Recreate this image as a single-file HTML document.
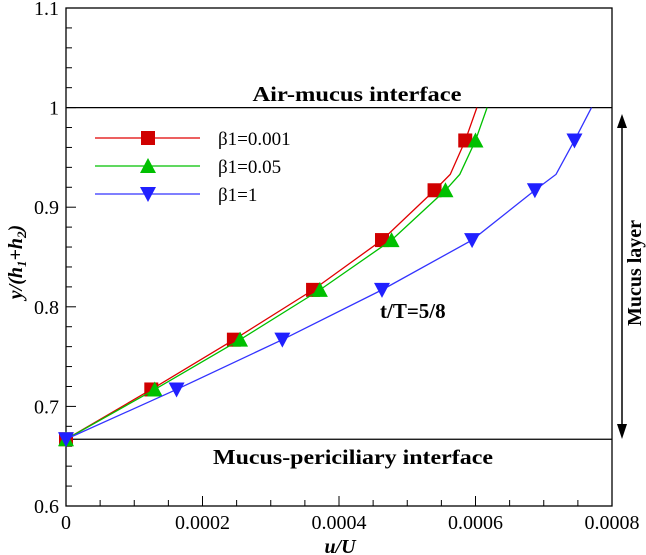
<!DOCTYPE html>
<html><head><meta charset="utf-8"><style>
body{margin:0;background:#fff}
svg{display:block;font-family:"Liberation Serif",serif}
</style></head><body>
<svg id="c" width="646" height="555">
<g id="axes"></g><g id="marks"></g>
<text x="357" y="101" text-anchor="middle" font-size="21" font-weight="bold" textLength="209" lengthAdjust="spacingAndGlyphs">Air-mucus interface</text>
<text x="353" y="464" text-anchor="middle" font-size="21" font-weight="bold" textLength="280" lengthAdjust="spacingAndGlyphs">Mucus-periciliary interface</text>
<text x="380" y="318" font-size="21" font-weight="bold">t/T=5/8</text>
<text x="340" y="553" text-anchor="middle" font-size="20" font-weight="bold" font-style="italic">u/U</text>
<text transform="translate(22,262) rotate(-90)" text-anchor="middle" font-size="20" font-weight="bold" font-style="italic">y/(h<tspan font-size="13" dy="4">1</tspan><tspan dy="-4">+h</tspan><tspan font-size="13" dy="4">2</tspan><tspan dy="-4">)</tspan></text>
<g>
<line x1="622" y1="125" x2="622" y2="428" stroke="#000" stroke-width="1.5"/>
<polygon points="617,128 627,128 622,114" fill="#000"/>
<polygon points="617,424 627,424 622,439" fill="#000"/>
</g>
<text transform="translate(641,273) rotate(-90)" text-anchor="middle" font-size="20" font-weight="bold">Mucus layer</text>
</svg>
<script>
const xTicks=[0,0.0002,0.0004,0.0006,0.0008];
const xTickLabels=["0","0.0002","0.0004","0.0006","0.0008"];
const yTicks=[0.6,0.7,0.8,0.9,1,1.1];
const yTickLabels=["0.6","0.7","0.8","0.9","1","1.1"];
const seriesNames=["β1=0.001","β1=0.05","β1=1"];
const lineY=[0.667,0.717,0.767,0.817,0.867,0.917,0.933,0.967,1.0];
const redX=[0,0.000125,0.000246,0.000362,0.000463,0.00054,0.000563,0.000585,0.000602];
const greenX=[0,0.00013,0.000255,0.000372,0.000477,0.000556,0.000577,0.0006,0.000617];
const blueX=[0,0.000162,0.000317,0.000463,0.000595,0.000687,0.000718,0.000745,0.00077];
const markerIdx=[0,1,2,3,4,5,7];
const X0=66,X1=612,Y0=506,Y1=8;
const sx=v=>X0+(v-0)/0.0008*(X1-X0);
const sy=v=>Y0-(v-0.6)/0.5*(Y0-Y1);
const NS="http://www.w3.org/2000/svg";
function mk(p,t,a){const e=document.createElementNS(NS,t);for(const k in a)e.setAttribute(k,a[k]);p.appendChild(e);return e;}
const ax=document.getElementById('axes'),mg=document.getElementById('marks');
let r=mk(ax,'rect',{x:X0,y:Y1,width:X1-X0,height:Y0-Y1,fill:'none',stroke:'#000','stroke-width':1.3});


for(let i=0;i<=16;i++){const v=i*0.00005,x=sx(v),L=i%4==0?10:6;
 let t=mk(ax,'line',{x1:x,x2:x,y1:Y0,y2:Y0-L,stroke:'#000'});
 
 }
for(let i=0;i<=25;i++){const v=0.6+i*0.02,y=sy(v),L=i%5==0?10:6;
 let t=mk(ax,'line',{x1:X0,x2:X0+L,y1:y,y2:y,stroke:'#000'});
 
 }
xTicks.forEach((v,i)=>{let t=mk(ax,'text',{x:sx(v),y:529,'text-anchor':'middle','font-size':20});t.textContent=xTickLabels[i];
 
 });
yTicks.forEach((v,i)=>{let t=mk(ax,'text',{x:59,y:sy(v)+7,'text-anchor':'end','font-size':20});t.textContent=yTickLabels[i];
 
 });
[1,0.667].forEach(v=>{let l=mk(ax,'line',{x1:X0,x2:X1,y1:sy(v),y2:sy(v),stroke:'#000','stroke-width':1.3});
 
 });
const cols=["#e00000","#00c000","#3333ff"],fills=["#d00000","#00c000","#2020ff"];
function marker(g,k,x,y){const s=7;
 if(k==0)return mk(g,'rect',{x:x-s,y:y-s,width:2*s,height:2*s,fill:fills[0]});
 if(k==1)return mk(g,'polygon',{points:`${x-8},${y+7} ${x+8},${y+7} ${x},${y-8}`,fill:fills[1]});
 return mk(g,'polygon',{points:`${x-8},${y-7} ${x+8},${y-7} ${x},${y+8}`,fill:fills[2]});}
[redX,greenX,blueX].forEach((xs,k)=>{
 const g=mk(mg,'g',{});
 
 
 const l=mk(g,'polyline',{points:xs.map((v,i)=>sx(v)+','+sy(lineY[i])).join(' '),fill:'none',stroke:cols[k],'stroke-width':1.3});
 
 
 markerIdx.forEach(i=>{const m=marker(g,k,sx(xs[i]),sy(lineY[i]));
  
  });
 const ly=138+k*28;
 const lg=mk(mg,'g',{});
 
 
 mk(lg,'line',{x1:95,x2:200,y1:ly,y2:ly,stroke:cols[k],'stroke-width':1.3});
 marker(lg,k,148,ly);
 const t=mk(lg,'text',{x:218,y:ly+7,'font-size':19});t.textContent=seriesNames[k];
});
</script>
</body></html>
